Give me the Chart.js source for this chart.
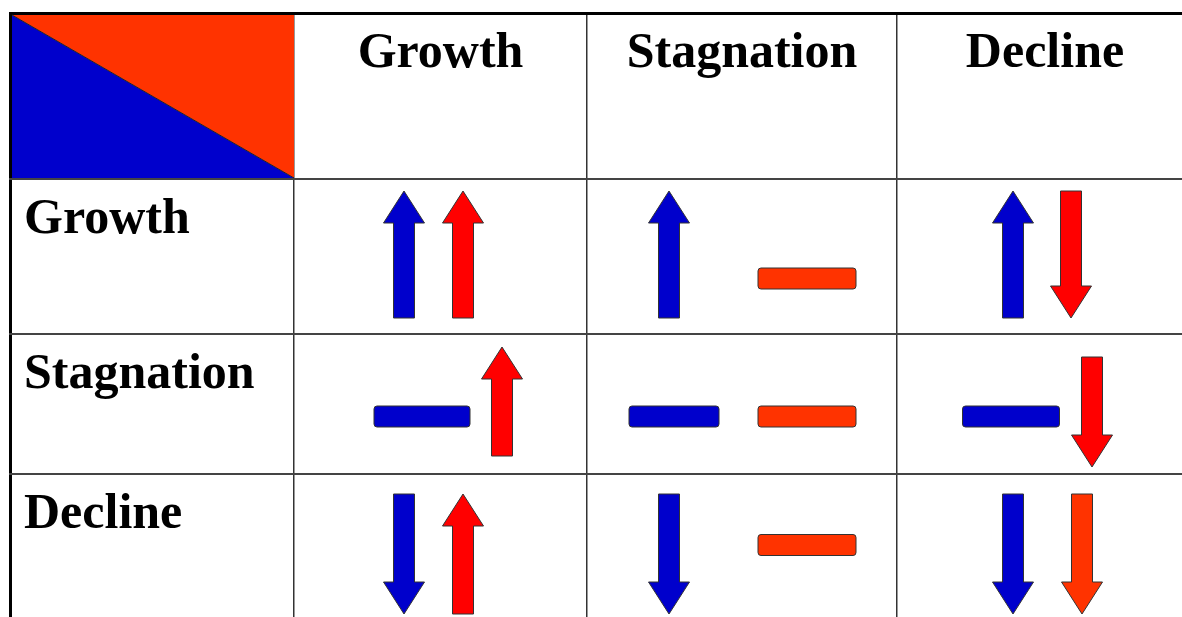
<!DOCTYPE html>
<html>
<head>
<meta charset="utf-8">
<script src="https://cdn.jsdelivr.net/npm/chart.js@4/dist/chart.umd.min.js"></script>
<style>
  html, body { margin: 0; padding: 0; background: #fff; }
  canvas { display: block; }
</style>
</head>
<body>
<canvas id="matrix" width="1182" height="617"></canvas>
<script>
// Data: economy in the row (blue) vs economy in the column (red)
const rowLabels = ['Growth', 'Stagnation', 'Decline'];
const colLabels = ['Growth', 'Stagnation', 'Decline'];
const rowTrend = [1, 0, -1];   // +1 rising, 0 flat, -1 falling
const colTrend = [1, 0, -1];

// Layout (axis units run 1:1 with the page)
const colEdges = [10.5, 294, 587, 897];
const colRight = 1193;
const rowEdges = [13.5, 179, 334, 474];
const blueX = [[404, 669, 1013], [422, 674, 1011], [404, 669, 1013]];
const redX  = [[463, 807, 1071], [502, 807, 1092], [463, 807, 1082]];
const arrowSpan = [
    [[191, 318], [191, 318], [191, 318]],
    [[347, 456], [347, 456], [357, 467]],
    [[494, 614], [494, 614], [494, 614]]
];
const barY = [278.5, 416.5, 545];
const blueBarW = [96, 90, 97];
const redBarW = 98;

const BLUE = '#0000CC';
const RED = '#FF0000';
const ORANGE = '#FF3300';
const redFill = [
    [RED, ORANGE, RED],
    [RED, ORANGE, RED],
    [RED, ORANGE, ORANGE]
];

function mark(trend, x, span, by, w, fill) {
    if (trend === 0) return { x: x, y: by, trend: 0, w: w, fill: fill };
    return { x: x, y: (span[0] + span[1]) / 2, len: span[1] - span[0], trend: trend, fill: fill };
}

const blueMarks = [];
const redMarks = [];
rowLabels.forEach((_, r) => {
    colLabels.forEach((_, c) => {
        blueMarks.push(mark(rowTrend[r], blueX[r][c], arrowSpan[r][c], barY[r], blueBarW[c], BLUE));
        redMarks.push(mark(colTrend[c], redX[r][c], arrowSpan[r][c], barY[r], redBarW, redFill[r][c]));
    });
});

function drawArrow(ctx, x, top, bottom, dir, fill) {
    const hw = 20.5, sw = 10.5, hl = 32;
    ctx.beginPath();
    if (dir > 0) {
        ctx.moveTo(x, top);
        ctx.lineTo(x + hw, top + hl);
        ctx.lineTo(x + sw, top + hl);
        ctx.lineTo(x + sw, bottom);
        ctx.lineTo(x - sw, bottom);
        ctx.lineTo(x - sw, top + hl);
        ctx.lineTo(x - hw, top + hl);
    } else {
        ctx.moveTo(x, bottom);
        ctx.lineTo(x + hw, bottom - hl);
        ctx.lineTo(x + sw, bottom - hl);
        ctx.lineTo(x + sw, top);
        ctx.lineTo(x - sw, top);
        ctx.lineTo(x - sw, bottom - hl);
        ctx.lineTo(x - hw, bottom - hl);
    }
    ctx.closePath();
    ctx.fillStyle = fill;
    ctx.fill();
    ctx.lineWidth = 1;
    ctx.strokeStyle = '#333';
    ctx.stroke();
}

function drawBar(ctx, x, y, w, fill) {
    const h = 21;
    ctx.beginPath();
    ctx.roundRect(x - w / 2, y - h / 2, w, h, 3);
    ctx.fillStyle = fill;
    ctx.fill();
    ctx.lineWidth = 1;
    ctx.strokeStyle = '#333';
    ctx.stroke();
}

const tablePlugin = {
    id: 'tablePlugin',
    beforeDatasetsDraw(chart) {
        const ctx = chart.ctx;
        const xs = chart.scales.x, ys = chart.scales.y;
        const x0 = xs.getPixelForValue(colEdges[0]) + 1.5;
        const x1 = xs.getPixelForValue(colEdges[1]);
        const y0 = ys.getPixelForValue(rowEdges[0]) + 1.5;
        const y1 = ys.getPixelForValue(rowEdges[1]) - 1;
        ctx.save();
        ctx.fillStyle = ORANGE;
        ctx.beginPath();
        ctx.moveTo(x0, y0); ctx.lineTo(x1, y0); ctx.lineTo(x1, y1); ctx.closePath();
        ctx.fill();
        ctx.fillStyle = BLUE;
        ctx.beginPath();
        ctx.moveTo(x0, y0); ctx.lineTo(x0, y1); ctx.lineTo(x1, y1); ctx.closePath();
        ctx.fill();
        ctx.strokeStyle = '#222';
        ctx.lineWidth = 1;
        ctx.beginPath();
        ctx.moveTo(x0, y0); ctx.lineTo(x1, y1);
        ctx.stroke();
        ctx.restore();
    },
    afterDatasetsDraw(chart) {
        const ctx = chart.ctx;
        const xs = chart.scales.x, ys = chart.scales.y;
        ctx.save();
        chart.data.datasets.forEach((ds, i) => {
            chart.getDatasetMeta(i).data.forEach((el, j) => {
                const m = ds.data[j];
                if (m.trend === 0) {
                    const w = xs.getPixelForValue(m.x + m.w / 2) - xs.getPixelForValue(m.x - m.w / 2);
                    drawBar(ctx, el.x, el.y, w, m.fill);
                } else {
                    const a = ys.getPixelForValue(m.y - m.len / 2);
                    const b = ys.getPixelForValue(m.y + m.len / 2);
                    drawArrow(ctx, el.x, Math.min(a, b), Math.max(a, b), m.trend, m.fill);
                }
            });
        });
        ctx.restore();
    },
    afterDraw(chart) {
        const ctx = chart.ctx;
        const xs = chart.scales.x, ys = chart.scales.y;
        ctx.save();
        ctx.fillStyle = '#000';
        ctx.font = 'bold 50px "Liberation Serif", serif';
        ctx.textBaseline = 'alphabetic';
        // column headers
        ctx.textAlign = 'center';
        const edges = colEdges.slice(1).concat([colRight]);
        colLabels.forEach((lab, c) => {
            const cx = (xs.getPixelForValue(edges[c]) + xs.getPixelForValue(edges[c + 1])) / 2;
            ctx.fillText(lab, cx, ys.getPixelForValue(rowEdges[0] + 53.5));
        });
        // row headers
        ctx.textAlign = 'left';
        rowLabels.forEach((lab, r) => {
            ctx.fillText(lab, xs.getPixelForValue(24), ys.getPixelForValue(rowEdges[r + 1] + 53.5));
        });
        ctx.restore();
    }
};

new Chart(document.getElementById('matrix'), {
    type: 'scatter',
    data: {
        datasets: [
            { label: 'Row economy', data: blueMarks, pointRadius: 0 },
            { label: 'Column economy', data: redMarks, pointRadius: 0 }
        ]
    },
    options: {
        responsive: false,
        animation: false,
        events: [],
        layout: { padding: { left: 9, top: 12, right: 0, bottom: 0 } },
        plugins: {
            legend: { display: false },
            tooltip: { enabled: false }
        },
        scales: {
            x: {
                type: 'linear',
                min: 9,
                max: 1182,
                afterBuildTicks: (axis) => { axis.ticks = colEdges.map(v => ({ value: v })); },
                ticks: { display: false },
                border: { display: false },
                grid: {
                    drawTicks: false,
                    lineWidth: (c) => c.index === 0 ? 3 : 1.5,
                    color: (c) => c.index === 0 ? '#000' : '#333'
                }
            },
            y: {
                type: 'linear',
                reverse: true,
                min: 12,
                max: 617,
                afterBuildTicks: (axis) => { axis.ticks = rowEdges.map(v => ({ value: v })); },
                ticks: { display: false },
                border: { display: false },
                grid: {
                    drawTicks: false,
                    lineWidth: (c) => c.index === 0 ? 3 : 2,
                    color: (c) => c.index === 0 ? '#000' : '#444'
                }
            }
        }
    },
    plugins: [tablePlugin]
});
</script>
</body>
</html>
